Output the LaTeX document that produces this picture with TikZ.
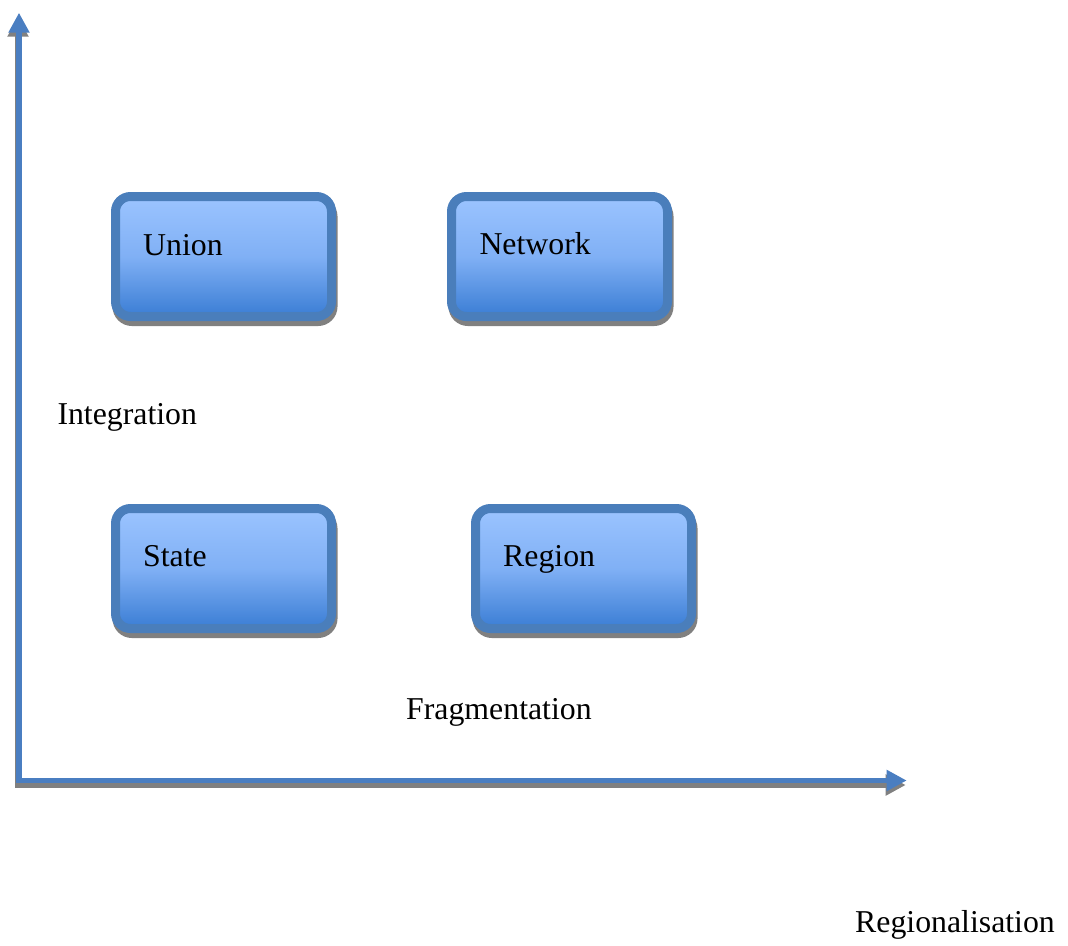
\documentclass[tikz,border=0pt]{standalone}
\usepackage{fontspec}
\setmainfont{Liberation Serif}
\usetikzlibrary{arrows.meta,backgrounds}
\definecolor{bordc}{RGB}{74,126,187}
\definecolor{axisc}{RGB}{74,126,193}
\definecolor{topc}{RGB}{155,196,255}
\definecolor{midc}{RGB}{128,176,245}
\definecolor{botc}{RGB}{58,125,212}
\definecolor{shadc}{RGB}{128,128,128}
\tikzset{
  box/.style={rectangle, draw=bordc, line width=9pt, rounded corners=15pt,
    minimum width=216pt, minimum height=120pt, inner sep=0pt, outer sep=0pt,
    top color=topc, bottom color=botc, middle color=midc},
  boxshadow/.style={draw=shadc, fill=shadc, line width=9pt, rounded corners=15pt},
  lbl/.style={anchor=base west, inner sep=0pt, font=\fontsize{31.8}{38}\selectfont},
  axis/.style={draw=axisc, line width=5.5pt, line join=miter,
    {Triangle[width=20pt,length=20pt]}-{Triangle[width=20pt,length=20pt]}},
  axisshadow/.style={draw=shadc, line width=5.5pt, line join=miter,
    {Triangle[width=20pt,length=20pt]}-{Triangle[width=20pt,length=20pt]}}
}
\begin{document}
\begin{tikzpicture}[x=1pt,y=-1pt]
\useasboundingbox (0,0) rectangle (1068,945);
% axes
\coordinate (ytip) at (19,12.7);
\coordinate (O) at (19,780.5);
\coordinate (xtip) at (906.7,780.5);
\coordinate (ytips) at (18,16.7);
\coordinate (Os) at (18,785);
\coordinate (xtips) at (905.7,785);
\draw[axisshadow] (ytips) -- (Os) -- (xtips);
\draw[axis] (ytip) -- (O) -- (xtip);
% boxes
\node[box] (union) at (223.5,256.5) {};
\node[box] (network) at (559.5,256.5) {};
\node[box] (state) at (223.5,568.5) {};
\node[box] (region) at (583.5,568.5) {};
\begin{scope}[on background layer]
\fill[white] (0,0) rectangle (1068,945);
\foreach \b in {union,network,state,region}{
  \draw[boxshadow] ([shift={(1.5,5)}]\b.south west) rectangle ([shift={(1.5,5)}]\b.north east);
}
\end{scope}
% labels
\node[lbl] (tunion) at (143,255) {Union};
\node[lbl] (tnetwork) at (479.3,254) {Network};
\node[lbl] (tstate) at (143,566) {State};
\node[lbl] (tregion) at (503,566) {Region};
\node[lbl] (tint) at (57.3,424.3) {Integration};
\node[lbl] (tfrag) at (406,719.3) {Fragmentation};
\node[lbl] (treg) at (855,932) {Regionalisation};
\end{tikzpicture}
\end{document}
